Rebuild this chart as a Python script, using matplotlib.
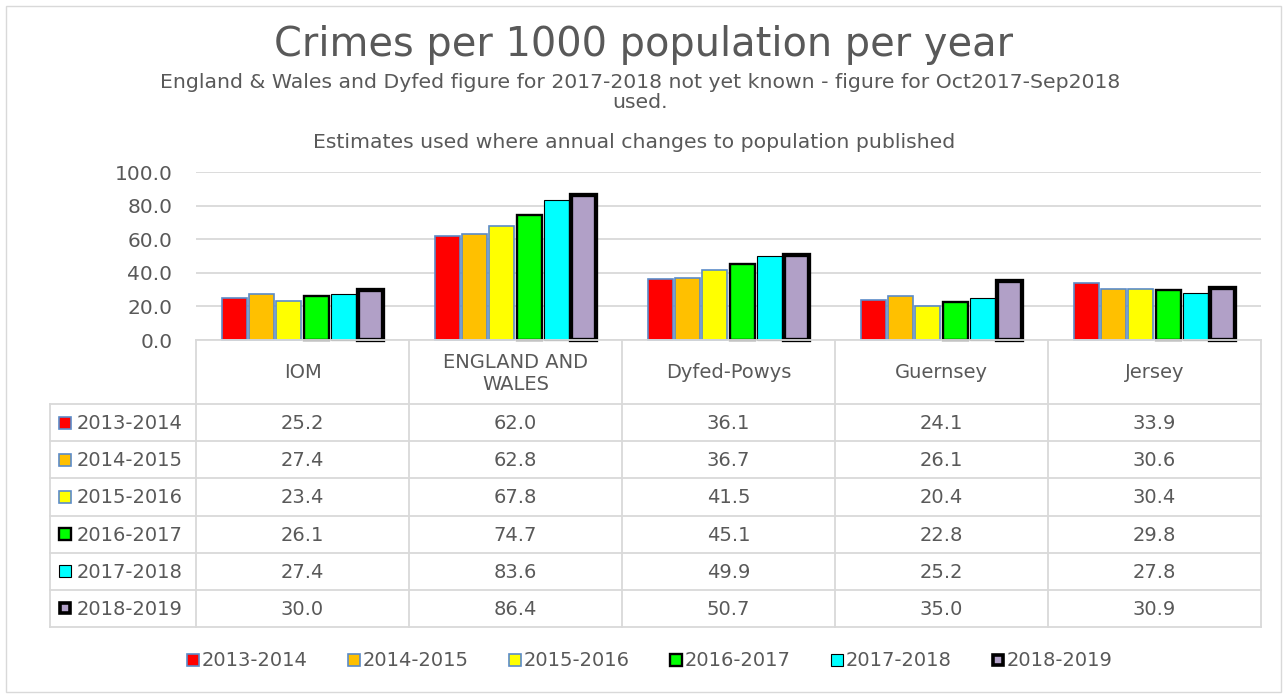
import matplotlib
matplotlib.use("Agg")
import matplotlib.pyplot as plt
from matplotlib.patches import Rectangle

W, H = 1288, 698
categories = ["IOM", "ENGLAND AND\nWALES", "Dyfed-Powys", "Guernsey", "Jersey"]
series = ["2013-2014", "2014-2015", "2015-2016", "2016-2017", "2017-2018", "2018-2019"]
v2013 = [25.2, 62.0, 36.1, 24.1, 33.9]
v2014 = [27.4, 62.8, 36.7, 26.1, 30.6]
v2015 = [23.4, 67.8, 41.5, 20.4, 30.4]
v2016 = [26.1, 74.7, 45.1, 22.8, 29.8]
v2017 = [27.4, 83.6, 49.9, 25.2, 27.8]
v2018 = [30.0, 86.4, 50.7, 35.0, 30.9]
values = [v2013, v2014, v2015, v2016, v2017, v2018]
yticks = [0, 20, 40, 60, 80, 100]

fills = ["#FF0000", "#FFC000", "#FFFF00", "#00FF00", "#00FFFF", "#B1A0C7"]
edges = ["#5B8BC8", "#5B8BC8", "#5B8BC8", "#000000", "#000000", "#000000"]
lws = [1.2, 1.2, 1.2, 1.7, 0.8, 3.1]
TXT = "#595959"
GRID = "#D9D9D9"

fig = plt.figure(figsize=(W / 100, H / 100), dpi=100)
fig.patch.set_facecolor("white")

def fx(px):
    return px / W

def fy(py):
    return 1 - py / H

# outer border
fig.patches.append(Rectangle((fx(6), fy(692)), fx(1281) - fx(6), fy(6) - fy(692),
                             transform=fig.transFigure, fill=False, edgecolor=GRID, lw=1.0))

renderer = fig.canvas.get_renderer()

def fit_text(x, y, s, target_w, size0=14, **kw):
    t = fig.text(fx(x), fy(y), s, ha="center", va="center", color=TXT, fontsize=size0, **kw)
    w = t.get_window_extent(renderer).width
    t.set_fontsize(size0 * target_w / w)
    return t

fit_text(644, 45, "Crimes per 1000 population per year", 740)
sub = fit_text(640, 82, "England & Wales and Dyfed figure for 2017-2018 not yet known - figure for Oct2017-Sep2018", 962)
fig.text(fx(640), fy(103), "used.", ha="center", va="center", color=TXT, fontsize=sub.get_fontsize())
fig.text(fx(634), fy(143), "Estimates used where annual changes to population published",
         ha="center", va="center", color=TXT, fontsize=sub.get_fontsize())

# bar axes
L, R, T, B = 196, 1261, 172, 340
ax = fig.add_axes([fx(L), fy(B), fx(R) - fx(L), fy(T) - fy(B)])
ax.set_xlim(-0.5, len(categories) - 0.5)
ax.set_ylim(0, 100)
ax.set_facecolor("none")
for s in ax.spines.values():
    s.set_visible(False)
ax.set_yticks(yticks)
ax.set_yticklabels([f"{t:.1f}" for t in yticks], color=TXT, fontsize=14.5)
ax.tick_params(axis="y", length=0, pad=17)
ax.set_xticks([])
ax.grid(axis="y", color=GRID, lw=1.3)
ax.set_axisbelow(True)

n = len(series)
group = 0.765
pitch = group / n
bw = pitch * 0.92
for i in range(n):
    xs = [c - group / 2 + pitch * (i + 0.5) for c in range(len(categories))]
    ax.bar(xs, values[i], width=bw, color=fills[i], edgecolor=edges[i], linewidth=lws[i],
           zorder=3, clip_on=False)

# table axes (pixel coordinates)
TL, TT, TB = 50, 340, 627
tax = fig.add_axes([fx(TL), fy(TB), fx(R) - fx(TL), fy(TT) - fy(TB)])
tax.set_xlim(TL, R)
tax.set_ylim(TB, TT)
tax.axis("off")
colx = [L + (R - L) * k / len(categories) for k in range(len(categories) + 1)]
rowy = [404 + 37.17 * k for k in range(n + 1)]
lk = dict(color=GRID, lw=1.3, solid_capstyle="projecting", clip_on=False)
tax.plot([L, R], [TT, TT], **lk)
for x in colx:
    tax.plot([x, x], [TT, TB], **lk)
tax.plot([TL, TL], [rowy[0], TB], **lk)
for y in rowy:
    tax.plot([TL, R], [y, y], **lk)

for j, c in enumerate(categories):
    cx = (colx[j] + colx[j + 1]) / 2
    tax.text(cx, 373, c, ha="center", va="center", color=TXT, fontsize=14, linespacing=1.2)

for i in range(n):
    cy = (rowy[i] + rowy[i + 1]) / 2
    s = 12 if i != 5 else 10
    tax.add_patch(Rectangle((65 - s / 2, cy - s / 2), s, s, facecolor=fills[i],
                            edgecolor=edges[i], linewidth=lws[i] if i != 5 else 2.6, clip_on=False))
    tax.text(77, cy + 1, series[i], ha="left", va="center", color=TXT, fontsize=14)
    for j in range(len(categories)):
        cx = (colx[j] + colx[j + 1]) / 2
        tax.text(cx, cy + 1, f"{values[i][j]:.1f}", ha="center", va="center", color=TXT, fontsize=14)

# bottom legend
lax = fig.add_axes([0, 0, 1, 1])
lax.set_xlim(0, W)
lax.set_ylim(H, 0)
lax.axis("off")
lx0, lstep, ly = 193, 161, 660
for i in range(n):
    mx = lx0 + lstep * i
    s = 12 if i != 5 else 10
    lax.add_patch(Rectangle((mx - s / 2, ly - s / 2), s, s, facecolor=fills[i],
                            edgecolor=edges[i], linewidth=lws[i] if i != 5 else 2.6))
    lax.text(mx + 9, ly + 1, series[i], ha="left", va="center", color=TXT, fontsize=14)

fig.savefig("out.png", dpi=100, facecolor="white")
